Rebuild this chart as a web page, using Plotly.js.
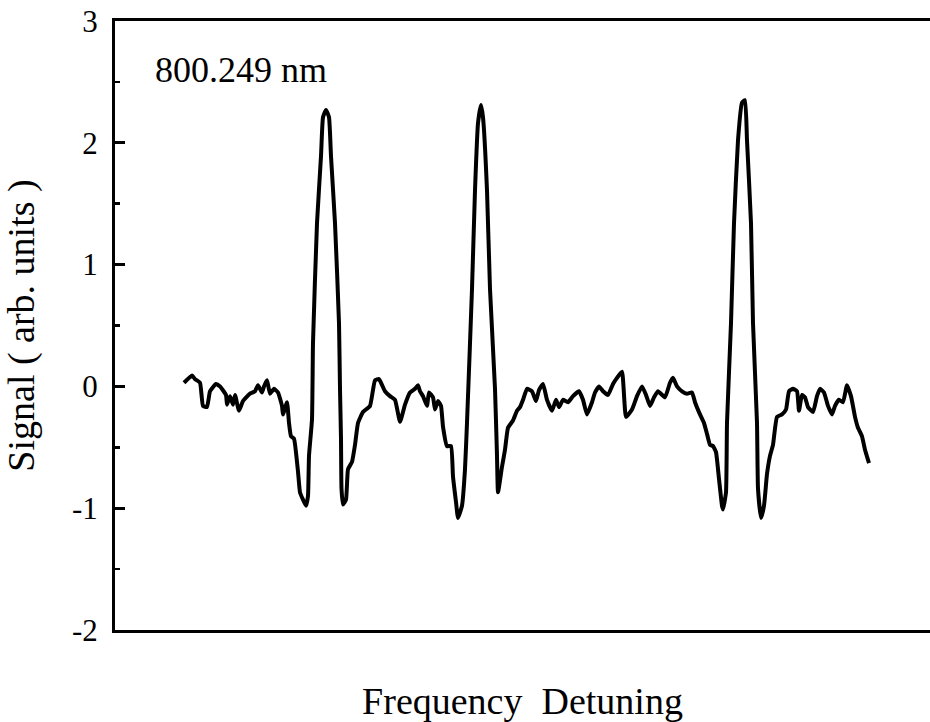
<!DOCTYPE html>
<html>
<head>
<meta charset="utf-8">
<script src="https://cdn.plot.ly/plotly-3.0.1.min.js"></script>
<style>html,body{margin:0;padding:0;background:#fff}#chart{width:930px;height:722px}</style>
</head>
<body>
<div id="chart"></div>
<script>
// Frequency detuning (arbitrary units) and signal (arb. units)
const detuning = [13.8,15.4,16.0,17.0,17.6,18.4,19.0,20.2,21.0,22.2,22.4,23.0,23.6,24.0,24.8,25.6,27.0,28.0,28.6,29.4,29.8,30.4,31.0,31.8,32.6,33.4,33.6,34.4,34.8,35.2,35.8,36.6,37.0,37.6,38.2,38.6,38.8,39.4,39.6,40.4,41.2,41.6,42.2,42.8,43.2,44.0,44.8,45.0,45.2,45.3,45.6,46.2,46.6,47.4,48.0,48.6,49.6,51.0,52.0,52.8,54.0,55.0,56.0,57.0,58.0,59.0,60.0,60.6,61.0,61.6,62.4,62.8,63.6,64.0,64.6,65.2,65.6,66.4,67.2,67.6,68.2,68.6,69.4,70.0,70.4,71.4,72.0,72.6,73.2,73.6,74.4,75.0,76.0,76.4,76.6,77.4,78.0,78.6,79.6,80.4,81.0,81.6,82.4,83.4,84.2,84.8,85.6,86.4,87.4,88.2,88.8,89.6,90.6,91.6,92.8,93.6,94.4,95.4,96.0,96.8,97.6,98.6,99.6,100.4,101.4,102.2,103.4,104.4,105.4,106.2,107.0,107.8,108.6,110.0,111.0,111.6,112.4,113.4,114.4,115.4,116.0,117.0,117.8,118.4,119.0,119.6,120.2,120.8,121.4,121.6,122.2,122.4,123.2,123.8,124.6,125.4,126.0,126.4,127.2,127.6,128.4,128.6,129.2,129.8,130.4,131.0,131.6,132.4,133.4,134.2,134.8,135.6,136.4,136.8,137.4,138.0,138.6,139.6,140.4,141.0,141.8,142.6,143.4,144.0,144.8,145.6,146.4,147.2,148.0,148.6,149.4,150.0,150.8];
const signal = [0.03,0.09,0.06,0.03,-0.16,-0.17,-0.04,0.02,0.00,-0.07,-0.15,-0.08,-0.15,-0.07,-0.20,-0.12,-0.06,-0.04,0.01,-0.05,0.00,0.05,-0.06,-0.02,-0.05,-0.16,-0.23,-0.13,-0.30,-0.41,-0.43,-0.70,-0.87,-0.93,-0.98,-0.90,-0.57,-0.27,0.36,1.34,1.89,2.21,2.27,2.21,1.89,1.34,0.52,-0.02,-0.43,-0.84,-0.97,-0.93,-0.68,-0.62,-0.48,-0.30,-0.21,-0.16,0.05,0.06,-0.04,-0.08,-0.11,-0.29,-0.15,-0.05,-0.02,0.01,-0.04,-0.08,-0.16,-0.05,-0.09,-0.19,-0.12,-0.16,-0.33,-0.49,-0.49,-0.74,-0.95,-1.08,-0.98,-0.68,-0.30,0.80,1.61,2.16,2.31,2.21,1.61,0.80,-0.02,-0.57,-0.87,-0.66,-0.52,-0.34,-0.28,-0.20,-0.17,-0.11,-0.02,-0.04,-0.12,-0.03,0.02,-0.11,-0.20,-0.11,-0.17,-0.11,-0.13,-0.08,-0.04,-0.11,-0.23,-0.13,-0.05,0.00,-0.04,-0.07,0.02,0.07,0.12,-0.25,-0.19,-0.08,0.00,-0.07,-0.16,-0.09,-0.04,-0.09,0.03,0.07,0.00,-0.04,-0.06,-0.05,-0.13,-0.23,-0.30,-0.39,-0.48,-0.49,-0.54,-0.76,-0.98,-1.01,-0.87,-0.30,0.52,1.34,2.02,2.33,2.35,2.02,1.34,0.52,-0.30,-0.84,-1.08,-0.98,-0.72,-0.57,-0.48,-0.25,-0.23,-0.19,-0.04,-0.02,-0.04,-0.20,-0.07,-0.09,-0.17,-0.21,-0.08,-0.02,-0.05,-0.16,-0.23,-0.16,-0.11,-0.13,0.01,-0.08,-0.25,-0.34,-0.41,-0.52,-0.63];
const yTickVals = [-2,-1,0,1,2,3];
const yTickText = ['-2','-1','0','1','2','3'];
const wavelengthLabel = '800.249 nm';

const serif = '"Liberation Serif", "Times New Roman", serif';
Plotly.newPlot('chart', [{
  x: detuning, y: signal, type: 'scatter', mode: 'lines',
  line: {color: '#000', width: 4, shape: 'spline', smoothing: 0.4}, hoverinfo: 'skip'
}], {
  width: 930, height: 722,
  margin: {l: 115, r: 0, t: 21, b: 92},
  paper_bgcolor: '#fff', plot_bgcolor: '#fff',
  showlegend: false,
  font: {family: serif, color: '#000'},
  xaxis: {
    range: [0, 163], showgrid: false, zeroline: false,
    showline: true, linecolor: '#000', linewidth: 3, mirror: true,
    ticks: '', showticklabels: false,
    title: {text: 'Frequency  Detuning', font: {family: serif, size: 38, color: '#000'}}
  },
  yaxis: {
    range: [-2, 3], showgrid: false, zeroline: false,
    showline: true, linecolor: '#000', linewidth: 3,
    ticks: 'inside', ticklen: 10, tickwidth: 3, tickcolor: '#000',
    tickvals: yTickVals, ticktext: yTickText,
    tickfont: {family: serif, size: 31, color: '#000'},
    ticklabelstandoff: 8,
    minor: {dtick: 0.5, ticks: 'inside', ticklen: 5, tickwidth: 2.5, tickcolor: '#000', showgrid: false},
    title: {text: 'Signal ( arb. units )', font: {family: serif, size: 38, color: '#000'}}
  },
  annotations: [{
    text: wavelengthLabel, xref: 'paper', yref: 'paper', x: 0.047, y: 0.92,
    xanchor: 'left', yanchor: 'middle', showarrow: false,
    font: {family: serif, size: 36, color: '#000'}
  }]
}, {displayModeBar: false, staticPlot: true});
</script>
</body>
</html>
